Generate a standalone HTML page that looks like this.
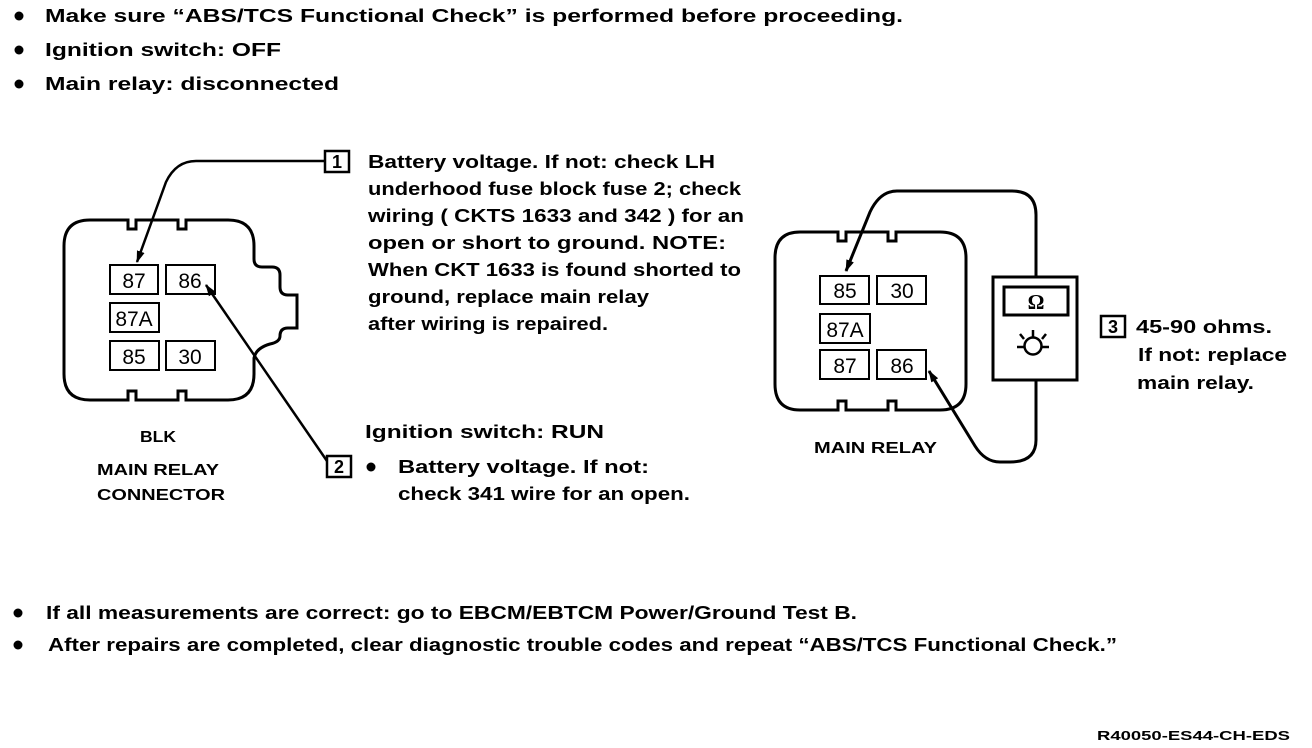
<!DOCTYPE html>
<html><head><meta charset="utf-8"><style>
html,body{margin:0;padding:0;background:#fff;width:1312px;height:748px;overflow:hidden}
svg{display:block}
text{font-family:"Liberation Sans",Arial,sans-serif;fill:#000}
.b{font-weight:bold;font-size:18px}
.s{font-weight:bold;font-size:16px}
.p{font-size:21px}
</style></head><body>
<svg width="1312" height="748" viewBox="0 0 1312 748" xmlns="http://www.w3.org/2000/svg">
<defs><marker id="ah" markerWidth="12" markerHeight="10" refX="11" refY="5" orient="auto" markerUnits="userSpaceOnUse"><path d="M0,1 L12,5 L0,9 Z" fill="#000"/></marker></defs>
<g fill="#000">
<circle cx="19" cy="16" r="4.5"/><circle cx="19" cy="50" r="4.5"/><circle cx="19" cy="84" r="4.5"/>
<circle cx="371" cy="467" r="4.5"/>
<circle cx="18" cy="613" r="4.5"/><circle cx="18" cy="645" r="4.5"/>
</g>
<text class="b" x="45" y="22" textLength="858" lengthAdjust="spacingAndGlyphs">Make sure “ABS/TCS Functional Check” is performed before proceeding.</text>
<text class="b" x="45" y="56" textLength="236" lengthAdjust="spacingAndGlyphs">Ignition switch: OFF</text>
<text class="b" x="45" y="90" textLength="294" lengthAdjust="spacingAndGlyphs">Main relay: disconnected</text>

<!-- left connector -->
<path d="M90,220 H128 V229 H136 V220 H178 V229 H186 V220 H228 Q254,220 254,246 V259 Q254,267 262,267 H272 Q280,267 280,275 V287 Q280,295 288,295 H297 V328 H288 Q280,328 280,336 Q280,342 270,344 Q256,348 254,358 V374 Q254,400 228,400 H186 V391 H178 V400 H136 V391 H128 V400 H90 Q64,400 64,374 V246 Q64,220 90,220 Z" fill="none" stroke="#000" stroke-width="3"/>
<g fill="none" stroke="#000" stroke-width="2">
<rect x="110" y="265" width="48" height="29"/><rect x="166" y="265" width="49" height="29"/>
<rect x="110" y="303" width="49" height="29"/>
<rect x="110" y="341" width="49" height="29"/><rect x="166" y="341" width="49" height="29"/>
</g>
<text class="p" x="134" y="288" text-anchor="middle">87</text>
<text class="p" x="190" y="288" text-anchor="middle">86</text>
<text class="p" x="134" y="326" text-anchor="middle">87A</text>
<text class="p" x="134" y="364" text-anchor="middle">85</text>
<text class="p" x="190" y="364" text-anchor="middle">30</text>
<path d="M325,161 H196 Q176,161 166,182 L137,262" fill="none" stroke="#000" stroke-width="2.5" marker-end="url(#ah)"/>
<path d="M327,461 L206,285" fill="none" stroke="#000" stroke-width="2.5" marker-end="url(#ah)"/>
<rect x="325" y="151" width="24" height="21" fill="#fff" stroke="#000" stroke-width="2.5"/>
<text class="b" x="337" y="168" text-anchor="middle">1</text>
<rect x="327" y="456" width="24" height="21" fill="#fff" stroke="#000" stroke-width="2.5"/>
<text class="b" x="339" y="473" text-anchor="middle">2</text>

<text class="b" x="368" y="168" textLength="347" lengthAdjust="spacingAndGlyphs">Battery voltage. If not: check LH</text>
<text class="b" x="368" y="195" textLength="373" lengthAdjust="spacingAndGlyphs">underhood fuse block fuse 2; check</text>
<text class="b" x="368" y="222" textLength="376" lengthAdjust="spacingAndGlyphs">wiring ( CKTS 1633 and 342 ) for an</text>
<text class="b" x="368" y="249" textLength="358" lengthAdjust="spacingAndGlyphs">open or short to ground. NOTE:</text>
<text class="b" x="368" y="276" textLength="373" lengthAdjust="spacingAndGlyphs">When CKT 1633 is found shorted to</text>
<text class="b" x="368" y="303" textLength="281" lengthAdjust="spacingAndGlyphs">ground, replace main relay</text>
<text class="b" x="368" y="330" textLength="240" lengthAdjust="spacingAndGlyphs">after wiring is repaired.</text>
<text class="b" x="365" y="438" textLength="239" lengthAdjust="spacingAndGlyphs">Ignition switch: RUN</text>
<text class="b" x="398" y="473" textLength="251" lengthAdjust="spacingAndGlyphs">Battery voltage. If not:</text>
<text class="b" x="398" y="500" textLength="292" lengthAdjust="spacingAndGlyphs">check 341 wire for an open.</text>
<text class="s" x="140" y="442" textLength="36" lengthAdjust="spacingAndGlyphs">BLK</text>
<text class="s" x="97" y="475" textLength="122" lengthAdjust="spacingAndGlyphs">MAIN RELAY</text>
<text class="s" x="97" y="500" textLength="128" lengthAdjust="spacingAndGlyphs">CONNECTOR</text>

<!-- right relay -->
<path d="M800,232 H838 V241 H846 V232 H888 V241 H896 V232 H940 Q966,232 966,258 V384 Q966,410 940,410 H896 V401 H888 V410 H846 V401 H838 V410 H800 Q775,410 775,384 V258 Q775,232 800,232 Z" fill="none" stroke="#000" stroke-width="3"/>
<g fill="none" stroke="#000" stroke-width="2">
<rect x="820" y="276" width="49" height="28"/><rect x="877" y="276" width="49" height="28"/>
<rect x="820" y="314" width="50" height="29"/>
<rect x="820" y="350" width="49" height="29"/><rect x="877" y="350" width="49" height="29"/>
</g>
<text class="p" x="845" y="298" text-anchor="middle">85</text>
<text class="p" x="902" y="298" text-anchor="middle">30</text>
<text class="p" x="845" y="337" text-anchor="middle">87A</text>
<text class="p" x="845" y="373" text-anchor="middle">87</text>
<text class="p" x="902" y="373" text-anchor="middle">86</text>
<path d="M1036,277 V215 Q1036,191 1012,191 H897 Q880,191 870,212 L846,271" fill="none" stroke="#000" stroke-width="3" marker-end="url(#ah)"/>
<path d="M1036,380 V440 Q1036,462 1010,462 H1000 Q985,462 975,446 L929,371" fill="none" stroke="#000" stroke-width="3" marker-end="url(#ah)"/>
<rect x="993" y="277" width="84" height="103" fill="#fff" stroke="#000" stroke-width="3"/>
<rect x="1004" y="287" width="64" height="28" fill="none" stroke="#000" stroke-width="3"/>
<text x="1036" y="309" text-anchor="middle" style="font-family:'Liberation Serif',serif;font-weight:bold;font-size:21px">Ω</text>
<circle cx="1033" cy="346" r="8.5" fill="none" stroke="#000" stroke-width="2.5"/>
<g stroke="#000" stroke-width="2.5"><line x1="1017" y1="347" x2="1025" y2="347"/><line x1="1041" y1="347" x2="1049" y2="347"/><line x1="1033" y1="337" x2="1033" y2="330"/><line x1="1024" y1="339" x2="1020" y2="334"/><line x1="1042" y1="339" x2="1046" y2="334"/></g>
<text class="s" x="814" y="453" textLength="123" lengthAdjust="spacingAndGlyphs">MAIN RELAY</text>
<rect x="1101" y="316" width="24" height="21" fill="none" stroke="#000" stroke-width="2.5"/>
<text class="b" x="1113" y="333" text-anchor="middle">3</text>
<text class="b" x="1136" y="333" textLength="136" lengthAdjust="spacingAndGlyphs">45-90 ohms.</text>
<text class="b" x="1138" y="361" textLength="149" lengthAdjust="spacingAndGlyphs">If not: replace</text>
<text class="b" x="1137" y="389" textLength="117" lengthAdjust="spacingAndGlyphs">main relay.</text>

<text class="b" x="46" y="619" textLength="811" lengthAdjust="spacingAndGlyphs">If all measurements are correct: go to EBCM/EBTCM Power/Ground Test B.</text>
<text class="b" x="48" y="651" textLength="1069" lengthAdjust="spacingAndGlyphs">After repairs are completed, clear diagnostic trouble codes and repeat “ABS/TCS Functional Check.”</text>
<text x="1097" y="740" textLength="193" lengthAdjust="spacingAndGlyphs" style="font-size:13px;font-weight:bold">R40050-ES44-CH-EDS</text>
</svg>
</body></html>
